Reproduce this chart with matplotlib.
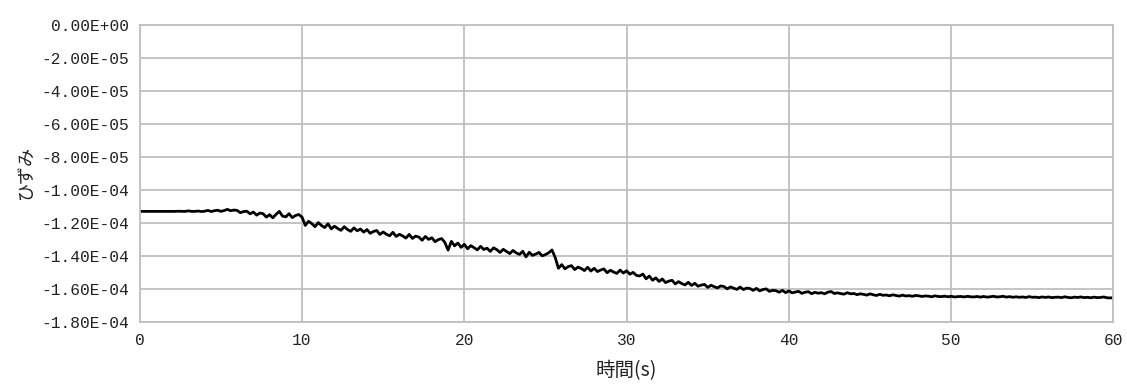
import numpy as np
import matplotlib.pyplot as plt
from matplotlib.ticker import FuncFormatter, MultipleLocator

# ひずみ (x1e-6), 0.2 s 間隔, 0 ~ 60 s
strain_u = [
    -113.0, -113.0, -113.0, -113.0, -113.0, -113.0, -113.0, -113.0, -113.0, -113.0,
    -113.0, -113.0, -112.9, -113.0, -113.0, -112.7, -113.0, -113.0, -112.8, -113.1,
    -112.9, -112.4, -113.1, -112.6, -112.3, -113.0, -112.5, -111.8, -112.6, -112.2,
    -112.4, -113.8, -113.1, -112.9, -114.5, -113.4, -115.3, -114.0, -114.4, -116.5,
    -115.0, -116.9, -114.8, -113.0, -115.9, -116.3, -114.4, -116.8, -115.5, -114.9,
    -116.5, -121.5, -119.0, -120.4, -122.3, -119.8, -121.6, -122.8, -120.5, -123.6,
    -122.0, -123.4, -124.5, -122.3, -124.0, -125.1, -123.0, -124.8, -123.7, -125.6,
    -124.0, -126.3, -125.2, -124.6, -127.0, -125.5, -126.9, -127.8, -125.7, -128.2,
    -126.9, -127.9, -129.2, -127.0, -129.4, -128.0, -128.6, -130.5, -128.2, -130.0,
    -129.0, -131.4, -130.1, -129.5, -131.8, -136.5, -131.2, -133.9, -132.2, -134.8,
    -133.0, -135.7, -133.8, -135.0, -136.4, -134.2, -136.1, -135.3, -137.3, -135.1,
    -136.2, -137.9, -136.0, -137.3, -138.6, -136.7, -138.2, -139.1, -137.2, -140.6,
    -137.8, -139.7, -138.9, -137.9, -140.0, -139.2, -138.1, -136.4, -141.0, -147.5,
    -145.3, -147.8, -146.5, -145.9, -148.3, -146.8, -147.6, -148.9, -146.9, -149.2,
    -147.5, -149.5, -148.6, -147.9, -150.2, -148.7, -149.8, -150.6, -148.6, -150.4,
    -149.0, -151.1, -150.0, -151.8, -152.2, -151.0, -153.9, -152.2, -154.8, -153.3,
    -155.5, -154.0, -156.2, -155.3, -154.8, -157.0, -155.6, -156.8, -157.6, -156.0,
    -157.9, -156.6, -158.4, -157.7, -157.3, -159.1, -157.8, -158.7, -159.4, -158.2,
    -158.6, -160.0, -158.8, -159.6, -160.3, -158.9, -160.4, -159.5, -159.8, -160.9,
    -159.7, -161.2, -160.4, -160.0, -161.5, -160.9, -161.1, -162.0, -160.9, -162.3,
    -161.2, -162.4, -161.9, -161.5, -162.7, -162.0, -161.7, -162.9, -162.1, -162.6,
    -162.3, -163.0, -162.0, -161.6, -162.8, -162.4, -162.9, -163.2, -162.3, -163.0,
    -162.8, -163.5, -163.0, -163.3, -163.8, -163.0, -163.6, -164.0, -163.3, -163.9,
    -163.7, -164.2, -163.6, -164.0, -164.4, -163.8, -164.3, -164.1, -164.5, -164.0,
    -164.2, -164.6, -164.3, -164.4, -164.8, -164.2, -164.6, -164.7, -164.4, -164.8,
    -164.5, -164.9, -164.7, -164.6, -164.9, -164.5, -164.8, -164.9, -164.6, -165.0,
    -164.6, -165.0, -164.8, -164.5, -164.9, -164.8, -164.5, -165.0, -164.7, -165.1,
    -164.8, -165.1, -164.9, -165.2, -164.7, -165.1, -165.0, -165.3, -164.9, -165.2,
    -164.9, -165.3, -165.1, -165.0, -165.3, -164.8, -165.2, -165.4, -165.0, -165.2,
    -164.9, -165.3, -165.1, -165.4, -165.0, -165.3, -165.2, -164.9, -165.4, -165.5,
    -165.3,
]
time_s = np.linspace(0, 60, len(strain_u))
strain = np.array(strain_u) * 1e-6

jp = ['Noto Sans CJK JP', 'DejaVu Sans']
tickfont = 'Liberation Mono'

fig = plt.figure(figsize=(11.27, 3.85), dpi=100)
ax = fig.add_axes([0.124, 0.164, 0.864, 0.771])

ax.plot(time_s, strain, color='black', lw=2.0)

ax.set_xlim(0, 60)
ax.set_ylim(-1.8e-4, 0)
ax.xaxis.set_major_locator(MultipleLocator(10))
ax.yaxis.set_major_locator(MultipleLocator(2e-5))
ax.yaxis.set_major_formatter(FuncFormatter(lambda v, p: f"{v:.2E}".replace("-0.00", "0.00")))

ax.grid(True, color='#bfbfbf', lw=1.3)
for s in ax.spines.values():
    s.set_color('#bfbfbf')
    s.set_linewidth(1.3)
ax.tick_params(length=0, pad=8, labelsize=11.7, labelcolor='#222222')
for lab in ax.get_xticklabels() + ax.get_yticklabels():
    lab.set_family(tickfont)

ax.set_xlabel('時間(s)', family=jp, fontsize=14, color='#222222', labelpad=9)
ax.set_ylabel('ひずみ', family=jp, fontsize=13, color='#222222', labelpad=4)

fig.savefig('out.png', dpi=100)
